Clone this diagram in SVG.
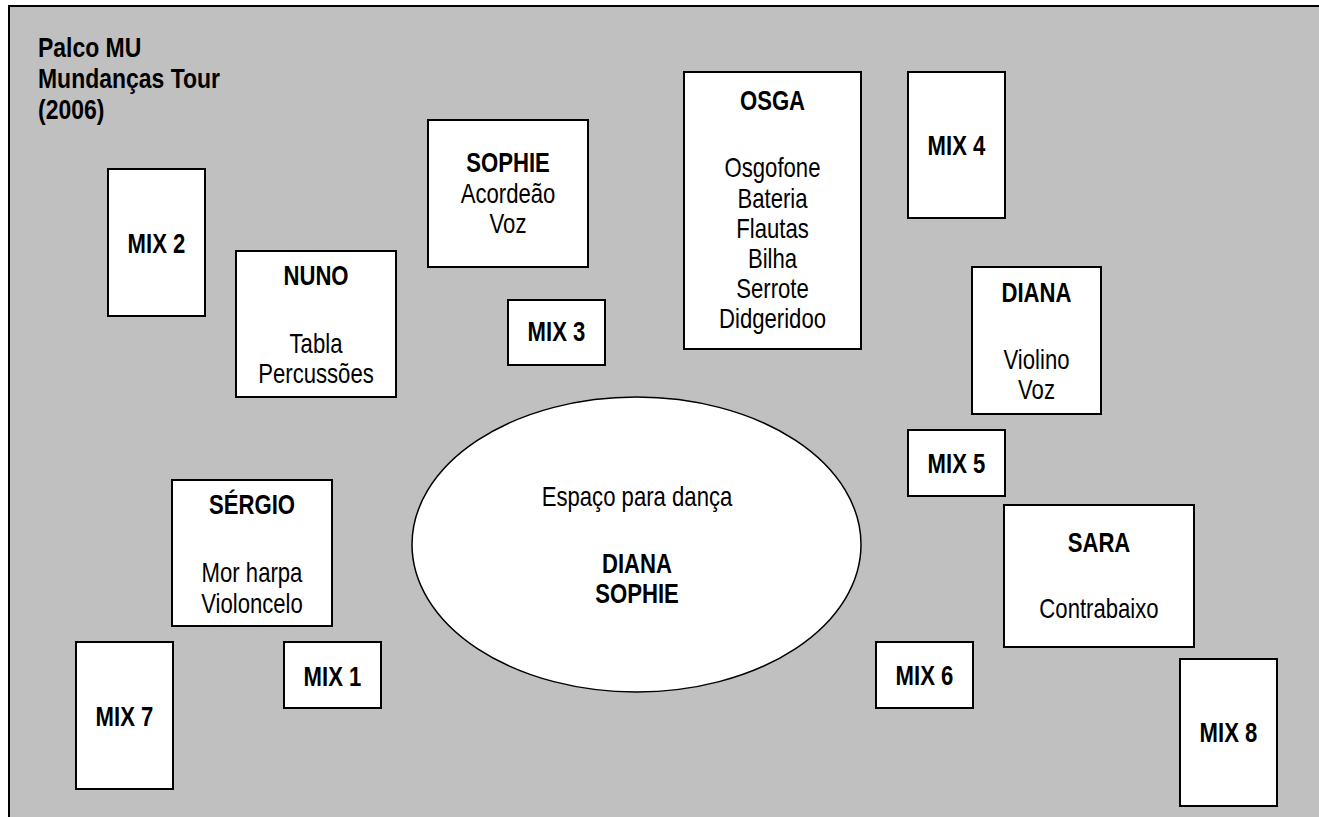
<svg xmlns="http://www.w3.org/2000/svg" width="1319" height="817" viewBox="0 0 1319 817">
<style>
.bx{fill:#fff;stroke:#000;stroke-width:2}
.t{font-family:"Liberation Sans",Arial,sans-serif;font-size:27px;fill:#000;text-anchor:middle}
.b{font-weight:bold}
.ttl{font-family:"Liberation Sans",Arial,sans-serif;font-size:28px;font-weight:bold;fill:#000}
</style>
<rect x="0" y="0" width="1319" height="817" fill="#fff"/>
<rect x="9" y="6" width="1320" height="820" fill="#c0c0c0" stroke="#000" stroke-width="2"/>
<g id="title" transform="translate(38 0) scale(0.82 1)">
<text class="ttl" x="0" y="57">Palco MU</text>
<text class="ttl" x="0" y="88">Mundanças Tour</text>
<text class="ttl" x="0" y="119">(2006)</text>
</g>
<g id="connectors"></g>
<g id="mix2"><rect class="bx" x="108" y="169" width="97" height="147"/><g transform="translate(156.5 0) scale(0.82 1)"><text class="t b" x="0" y="253">MIX 2</text></g></g>
<g id="nuno"><rect class="bx" x="236" y="251" width="160" height="146"/><g transform="translate(316 0) scale(0.82 1)"><text class="t b" x="0" y="285">NUNO</text><text class="t" x="0" y="353">Tabla</text><text class="t" x="0" y="383">Percussões</text></g></g>
<g id="sophie"><rect class="bx" x="428" y="120" width="160" height="147"/><g transform="translate(508 0) scale(0.82 1)"><text class="t b" x="0" y="172">SOPHIE</text><text class="t" x="0" y="203">Acordeão</text><text class="t" x="0" y="233">Voz</text></g></g>
<g id="mix3"><rect class="bx" x="508" y="300" width="97" height="65"/><g transform="translate(556.5 0) scale(0.82 1)"><text class="t b" x="0" y="341">MIX 3</text></g></g>
<g id="osga"><rect class="bx" x="684" y="72" width="177" height="277"/><g transform="translate(772.5 0) scale(0.82 1)"><text class="t b" x="0" y="110">OSGA</text><text class="t" x="0" y="177">Osgofone</text><text class="t" x="0" y="208">Bateria</text><text class="t" x="0" y="238">Flautas</text><text class="t" x="0" y="268">Bilha</text><text class="t" x="0" y="298">Serrote</text><text class="t" x="0" y="328">Didgeridoo</text></g></g>
<g id="mix4"><rect class="bx" x="908" y="72" width="97" height="146"/><g transform="translate(956.5 0) scale(0.82 1)"><text class="t b" x="0" y="155">MIX 4</text></g></g>
<g id="diana"><rect class="bx" x="972" y="267" width="129" height="147"/><g transform="translate(1036.5 0) scale(0.82 1)"><text class="t b" x="0" y="302">DIANA</text><text class="t" x="0" y="369">Violino</text><text class="t" x="0" y="399">Voz</text></g></g>
<g id="mix5"><rect class="bx" x="908" y="430" width="97" height="66"/><g transform="translate(956.5 0) scale(0.82 1)"><text class="t b" x="0" y="473">MIX 5</text></g></g>
<g id="sara"><rect class="bx" x="1004" y="505" width="190" height="142"/><g transform="translate(1099 0) scale(0.82 1)"><text class="t b" x="0" y="552">SARA</text><text class="t" x="0" y="618">Contrabaixo</text></g></g>
<g id="mix6"><rect class="bx" x="876" y="642" width="97" height="66"/><g transform="translate(924.5 0) scale(0.82 1)"><text class="t b" x="0" y="685">MIX 6</text></g></g>
<g id="mix8"><rect class="bx" x="1180" y="659" width="97" height="147"/><g transform="translate(1228.5 0) scale(0.82 1)"><text class="t b" x="0" y="742">MIX 8</text></g></g>
<g id="sergio"><rect class="bx" x="172" y="480" width="160" height="146"/><g transform="translate(252 0) scale(0.82 1)"><text class="t b" x="0" y="514">SÉRGIO</text><text class="t" x="0" y="582">Mor harpa</text><text class="t" x="0" y="613">Violoncelo</text></g></g>
<g id="mix7"><rect class="bx" x="76" y="642" width="97" height="147"/><g transform="translate(124.5 0) scale(0.82 1)"><text class="t b" x="0" y="726">MIX 7</text></g></g>
<g id="mix1"><rect class="bx" x="284" y="642" width="97" height="66"/><g transform="translate(332.5 0) scale(0.82 1)"><text class="t b" x="0" y="686">MIX 1</text></g></g>
<g id="danca"><ellipse cx="636.5" cy="544.5" rx="224.5" ry="147.5" fill="#fff" stroke="#000" stroke-width="1.5"/><g transform="translate(637 0) scale(0.82 1)"><text class="t" x="0" y="506">Espaço para dança</text><text class="t b" x="0" y="573">DIANA</text><text class="t b" x="0" y="603">SOPHIE</text></g></g>
</svg>
